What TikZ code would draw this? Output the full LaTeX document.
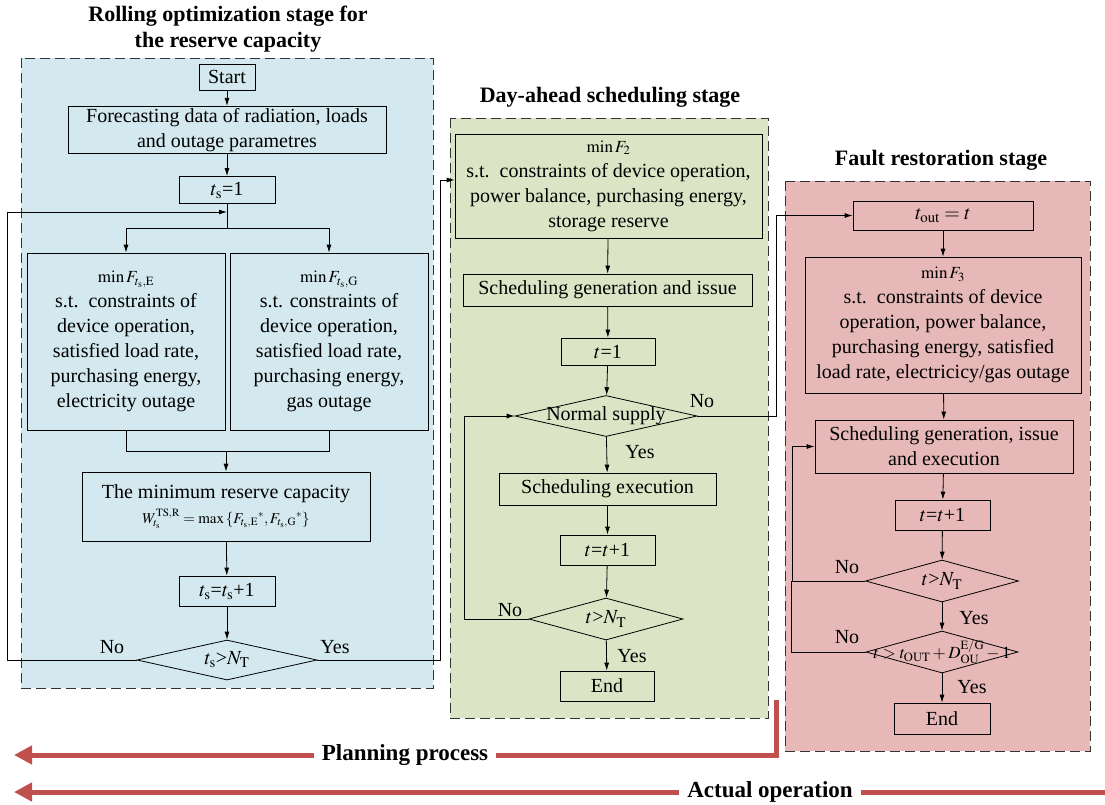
\documentclass[tikz,border=0pt]{standalone}
\usepackage{mathptmx}
\usepackage{fontspec}
\setmainfont{Liberation Serif}
\usepackage{tikz}
\usetikzlibrary{arrows.meta,calc,positioning,shapes.geometric}
\definecolor{Sky}{HTML}{D3E8EF}
\definecolor{Sage}{HTML}{DCE4C6}
\definecolor{Rose}{HTML}{E6B9B8}
\definecolor{Brick}{HTML}{C0504D}
\tikzset{
  panel/.style={draw=black!80,line width=0.9pt,dash pattern=on 10pt off 5pt},
  stagetitle/.style={align=center,font=\fontsize{22}{26}\selectfont\bfseries},
  box/.style={draw,line width=0.8pt,align=center,inner sep=2pt,font=\fontsize{20}{25}\selectfont},
  decision/.style={diamond,draw,line width=0.8pt,inner sep=0pt},
  dlabel/.style={font=\fontsize{20}{22}\selectfont},
  link/.style={-{Latex[length=8pt,width=5pt]},line width=0.8pt},
  plain/.style={line width=0.8pt},
  yn/.style={font=\fontsize{20}{22}\selectfont},
  flow/.style={line width=5pt,draw=Brick},
  flowtip/.style={-{Triangle[length=18pt,width=18pt]},line width=5pt,draw=Brick},
  flowtext/.style={fill=white,inner xsep=8pt,font=\fontsize{23}{26}\selectfont\bfseries},
}
\newcommand{\minline}[1]{{\fontsize{17}{20}\selectfont $\min #1$}}

\begin{document}
\begin{tikzpicture}[x=1pt,y=-1pt]
  \useasboundingbox (0,0) rectangle (1105,804);

  % stage panels
  \fill[Sky] (21,58) rectangle (433,688);
  \draw[panel] (21,58) rectangle (433,688);
  \fill[Sage] (450,118) rectangle (768,718);
  \draw[panel] (450,118) rectangle (768,718);
  \fill[Rose] (785,181) rectangle (1090,751);
  \draw[panel] (785,181) rectangle (1090,751);

  \node[stagetitle] (ttl1) at (228,29) {Rolling optimization stage for\\the reserve capacity};
  \node[stagetitle] (ttl2) at (610,97) {Day-ahead scheduling stage};
  \node[stagetitle] (ttl3) at (941,160) {Fault restoration stage};

  % rolling optimization
  \node[box,minimum width=56pt,minimum height=26pt] (start) at (227,77) {Start};
  \node[box,minimum width=318pt,minimum height=44pt] (fcst) at (227,130) {Forecasting data of radiation, loads\\and outage parametres};
  \node[box,minimum width=96pt,minimum height=27pt] (ts1) at (227,190) {$t_\mathrm{s}$=1};
  \node[box,minimum width=198pt,minimum height=177pt] (optE) at (126,341.5)
    {\minline{F_{t_\mathrm{s},\mathrm{E}}}\\s.t.\ \ constraints of\\device operation,\\satisfied load rate,\\purchasing energy,\\electricity outage};
  \node[box,minimum width=198pt,minimum height=177pt] (optG) at (329,341.5)
    {\minline{F_{t_\mathrm{s},\mathrm{G}}}\\s.t. constraints of\\device operation,\\satisfied load rate,\\purchasing energy,\\gas outage};
  \node[box,minimum width=288pt,minimum height=69pt] (minres) at (226,506.5)
    {The minimum reserve capacity\\{\fontsize{15}{18}\selectfont $W_{t_\mathrm{s}}^{\mathrm{TS,R}}=\max\left\{F_{t_\mathrm{s},\mathrm{E}}{}^{*},F_{t_\mathrm{s},\mathrm{G}}{}^{*}\right\}$}};
  \node[box,minimum width=96pt,minimum height=30pt] (tsinc) at (227,591) {$t_\mathrm{s}$=$t_\mathrm{s}$+1};
  \node[decision,minimum width=180pt,minimum height=40pt,label={[dlabel]center:$t_\mathrm{s}$>$N_\mathrm{T}$}] (tsdec) at (227,660) {};

  \coordinate (back) at (227,212);
  \coordinate (split) at (227,228);
  \coordinate (merge) at (226,451);
  \draw[link] (start) -- (fcst);
  \draw[link] (fcst) -- (ts1);
  \draw[plain] (ts1) -- (split);
  \draw[link] (split) -| (optE.north);
  \draw[link] (split) -| (optG.north);
  \draw[plain] (optE.south) |- (merge) -| (optG.south);
  \draw[link] (merge) -- (minres);
  \draw[link] (minres) -- (tsinc);
  \draw[link] (tsinc) -- (tsdec);
  \draw[link] (tsdec.west) -- ++(-129,0) |- (back);
  \node[yn] (no1) at (112,647) {No};
  \node[yn] (yes1) at (335,647) {Yes};

  % day-ahead scheduling
  \node[box,minimum width=307pt,minimum height=104pt] (minF2) at (608.5,186)
    {\minline{F_2}\\s.t.\ \ constraints of device operation,\\power balance, purchasing energy,\\storage reserve};
  \node[box,minimum width=289pt,minimum height=32pt] (schgen) at (607.5,290) {Scheduling generation and issue};
  \node[box,minimum width=94pt,minimum height=27pt] (t1) at (608,351.5) {$t$=1};
  \node[decision,minimum width=182pt,minimum height=41pt,label={[dlabel]center:Normal supply}] (normal) at (606,416) {};
  \node[box,minimum width=217pt,minimum height=32pt] (schexe) at (607.5,489) {Scheduling execution};
  \node[box,minimum width=95pt,minimum height=30pt] (tinc) at (607.5,550) {$t$=$t$+1};
  \node[decision,minimum width=154pt,minimum height=42pt,label={[dlabel]center:$t$>$N_\mathrm{T}$}] (tdec) at (606,619) {};
  \node[box,minimum width=94pt,minimum height=30pt] (endA) at (607,686) {End};

  \draw[link] (tsdec.east) -- ++(123,0) |- ([yshift=6pt]minF2.west);
  \draw[link] (minF2) -- (schgen);
  \draw[link] (schgen) -- (t1);
  \draw[link] (t1) -- (normal);
  \draw[link] (normal) -- (schexe);
  \draw[link] (schexe) -- (tinc);
  \draw[link] (tinc) -- (tdec);
  \draw[link] (tdec) -- (endA);
  \draw[link] (tdec.west) -- ++(-64,0) |- (normal.west);
  \node[yn] (no2) at (702,401) {No};
  \node[yn] (yes2) at (640,452) {Yes};
  \node[yn] (no3) at (510,610) {No};
  \node[yn] (yes3) at (632,656) {Yes};

  % fault restoration
  \node[box,minimum width=180pt,minimum height=29pt] (tout) at (943,215.5) {$t_\mathrm{out}=t$};
  \node[box,minimum width=276pt,minimum height=136pt] (minF3) at (943,325)
    {\minline{F_3}\\s.t.\ \ constraints of device\\operation, power balance,\\purchasing energy, satisfied\\load rate, electricicy/gas outage};
  \node[box,minimum width=258pt,minimum height=53pt] (schgie) at (944,446.5) {Scheduling generation, issue\\and execution};
  \node[box,minimum width=95pt,minimum height=30pt] (tinc2) at (942.5,515) {$t$=$t$+1};
  \node[decision,minimum width=153pt,minimum height=42pt,label={[dlabel]center:$t$>$N_\mathrm{T}$}] (tdec2) at (942,581) {};
  \node[decision,minimum width=152pt,minimum height=42pt,
    label={[font=\fontsize{17}{20}\selectfont]center:$t>t_\mathrm{OUT}+D_\mathrm{OU}^{\mathrm{E/G}}-1$}] (tdec3) at (942,652) {};
  \node[box,minimum width=96pt,minimum height=31pt] (endB) at (942,718.5) {End};

  \draw[link] (normal.east) -- ++(79,0) |- (tout.west);
  \draw[link] (tout) -- (minF3);
  \draw[link] (minF3) -- (schgie);
  \draw[link] (schgie) -- (tinc2);
  \draw[link] (tinc2) -- (tdec2);
  \draw[link] (tdec2) -- (tdec3);
  \draw[link] (tdec3) -- (endB);
  \draw[link] (tdec2.west) -- ++(-73,0) |- (schgie.west);
  \draw[plain] (tdec3.west) -- ++(-74,0) |- (tdec2.west);
  \node[yn] (no4) at (847,567) {No};
  \node[yn] (yes4) at (974,618) {Yes};
  \node[yn] (no5) at (847,637) {No};
  \node[yn] (yes5) at (972,687) {Yes};

  % process arrows
  \node[flowtext] (plan) at (405,755) {Planning process};
  \node[flowtext] (actual) at (770,792) {Actual operation};
  \coordinate (planfrom) at (776,700);
  \coordinate (planto) at (14,755);
  \coordinate (actfrom) at (1105,792);
  \coordinate (actto) at (14,792);
  \draw[flow] (planfrom) |- (plan.east);
  \draw[flowtip] (plan.west) -- (planto);
  \draw[flow] (actfrom) -- (actual.east);
  \draw[flowtip] (actual.west) -- (actto);
\end{tikzpicture}
\end{document}
